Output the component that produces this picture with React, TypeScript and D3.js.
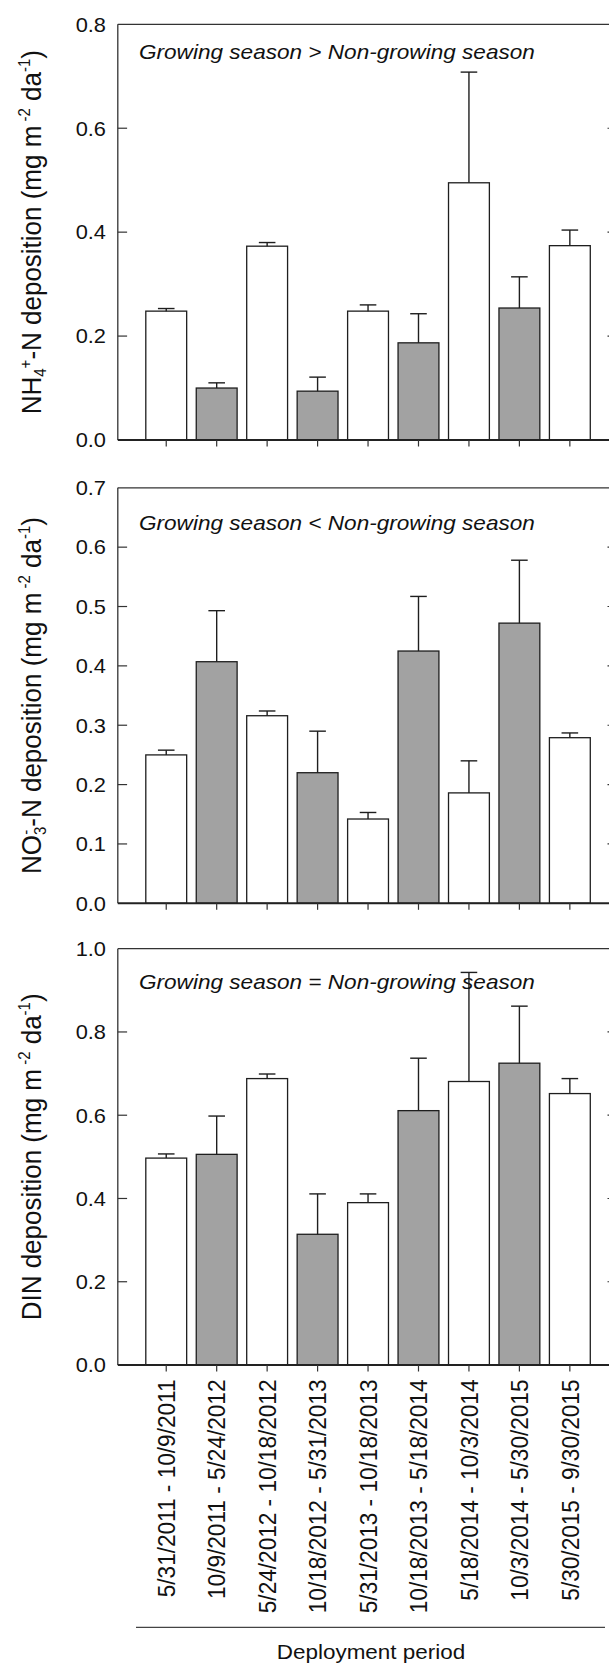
import React from "react";
import * as d3 from "d3";

const categories = [
  "5/31/2011 - 10/9/2011",
  "10/9/2011 - 5/24/2012",
  "5/24/2012 - 10/18/2012",
  "10/18/2012 - 5/31/2013",
  "5/31/2013 - 10/18/2013",
  "10/18/2013 - 5/18/2014",
  "5/18/2014 - 10/3/2014",
  "10/3/2014 - 5/30/2015",
  "5/30/2015 - 9/30/2015",
];
const growingSeason = [true, false, true, false, true, false, true, false, true];

const nh4 = [0.248, 0.100, 0.373, 0.094, 0.248, 0.187, 0.495, 0.254, 0.374];
const nh4Err = [0.005, 0.010, 0.007, 0.027, 0.012, 0.056, 0.213, 0.060, 0.030];
const no3 = [0.250, 0.407, 0.316, 0.220, 0.142, 0.425, 0.186, 0.472, 0.279];
const no3Err = [0.008, 0.086, 0.008, 0.070, 0.011, 0.092, 0.054, 0.106, 0.008];
const din = [0.497, 0.506, 0.688, 0.314, 0.390, 0.611, 0.681, 0.725, 0.652];
const dinErr = [0.010, 0.092, 0.011, 0.097, 0.021, 0.126, 0.262, 0.137, 0.036];

const nh4Ticks = [0, 0.2, 0.4, 0.6, 0.8];
const no3Ticks = [0, 0.1, 0.2, 0.3, 0.4, 0.5, 0.6, 0.7];
const dinTicks = [0, 0.2, 0.4, 0.6, 0.8, 1.0];

const notes = [
  "Growing season > Non-growing season",
  "Growing season < Non-growing season",
  "Growing season = Non-growing season",
];
const xTitle = "Deployment period";

const W = 609;
const H = 1669;
const FONT = "'Liberation Sans', Arial, Helvetica, sans-serif";
const SX = 1.08;
const GRAY = "#a2a2a2";
const INK = "#1e1e1e";

const x = d3.scaleLinear().domain([0.04, 10]).range([117.8, 620.3]);
const BAR_W = 0.81;
const LEFT = 117.8;

function Title({ kind, cy }) {
  const sub = 15;
  const common = { fontSize: 26 };
  let body;
  if (kind === "nh4") {
    body = (
      <>
        <tspan>NH</tspan>
        <tspan fontSize={sub} dy={5}>4</tspan>
        <tspan fontSize={sub} dy={-14}>+</tspan>
        <tspan dy={9}>-N deposition (mg m</tspan>
        <tspan fontSize={sub} dy={-10}> -2</tspan>
        <tspan dy={10}> da</tspan>
        <tspan fontSize={sub} dy={-10}>-1</tspan>
        <tspan dy={10}>)</tspan>
      </>
    );
  } else if (kind === "no3") {
    body = (
      <>
        <tspan>NO</tspan>
        <tspan fontSize={sub} dy={5}>3</tspan>
        <tspan fontSize={sub} dx={-8} dy={-14}>-</tspan>
        <tspan dy={9} dx={3}>-N deposition (mg m</tspan>
        <tspan fontSize={sub} dy={-10}> -2</tspan>
        <tspan dy={10}> da</tspan>
        <tspan fontSize={sub} dy={-10}>-1</tspan>
        <tspan dy={10}>)</tspan>
      </>
    );
  } else {
    body = (
      <>
        <tspan>DIN deposition (mg m</tspan>
        <tspan fontSize={sub} dy={-10}> -2</tspan>
        <tspan dy={10}> da</tspan>
        <tspan fontSize={sub} dy={-10}>-1</tspan>
        <tspan dy={10}>)</tspan>
      </>
    );
  }
  return (
    <text
      transform={`translate(41,${cy}) scale(${SX},1) rotate(-90)`}
      textAnchor="middle"
      fill="#111"
      {...common}
    >
      {body}
    </text>
  );
}

function Panel({ values, errors, ticks, top, bottom, note, noteY, kind, showLabels }) {
  const y = d3.scaleLinear().domain([0, ticks[ticks.length - 1]]).range([bottom, top]);
  const fmt = d3.format(".1f");
  return (
    <g>
      {/* bars */}
      {values.map((v, i) => {
        const c = i + 1;
        const x0 = x(c - BAR_W / 2);
        const x1 = x(c + BAR_W / 2);
        return (
          <rect
            key={"b" + i}
            x={x0}
            y={y(v)}
            width={x1 - x0}
            height={y(0) - y(v)}
            fill={growingSeason[i] ? "#ffffff" : GRAY}
            stroke={INK}
            strokeWidth={1.3}
          />
        );
      })}
      {/* error bars */}
      {values.map((v, i) => {
        const cx = x(i + 1);
        const yt = y(v + errors[i]);
        return (
          <g key={"e" + i} stroke={INK} strokeWidth={1.4}>
            <line x1={cx} x2={cx} y1={y(v)} y2={yt} />
            <line x1={cx - 8.3} x2={cx + 8.3} y1={yt} y2={yt} />
          </g>
        );
      })}
      {/* frame */}
      <line x1={LEFT} x2={LEFT} y1={top} y2={bottom} stroke="#333" strokeWidth={1.3} />
      <line x1={LEFT} x2={W + 10} y1={top} y2={top} stroke="#333" strokeWidth={1.3} />
      <line x1={LEFT} x2={W + 10} y1={bottom} y2={bottom} stroke="#222" strokeWidth={2} />
      {/* y ticks */}
      {ticks.map((t, i) => (
        <g key={"t" + i}>
          {i > 0 && i < ticks.length - 1 && (
            <>
              <line x1={LEFT} x2={LEFT + 9.3} y1={y(t)} y2={y(t)} stroke="#333" strokeWidth={1.2} />
              <line x1={607.5} x2={620} y1={y(t)} y2={y(t)} stroke="#333" strokeWidth={1.2} />
            </>
          )}
          <text
            transform={`translate(106,${y(t)}) scale(${SX},1)`}
            textAnchor="end"
            dy="0.36em"
            fontSize={20.2}
            fill="#111"
          >
            {fmt(t)}
          </text>
        </g>
      ))}
      {/* x ticks */}
      {categories.map((c, i) => (
        <line
          key={"x" + i}
          x1={x(i + 1)}
          x2={x(i + 1)}
          y1={bottom}
          y2={bottom + 6.5}
          stroke="#333"
          strokeWidth={1.2}
        />
      ))}
      {showLabels &&
        categories.map((c, i) => (
          <text
            key={"l" + i}
            transform={`translate(${x(i + 1)},${bottom + 14.5}) scale(${SX},1) rotate(-90)`}
            textAnchor="end"
            dy="0.36em"
            fontSize={22.6}
            fill="#111"
          >
            {c}
          </text>
        ))}
      <text
        transform={`translate(139,${noteY}) scale(${SX},1)`}
        fontSize={20.9}
        fontStyle="italic"
        fill="#111"
      >
        {note}
      </text>
      <Title kind={kind} cy={(top + bottom) / 2} />
    </g>
  );
}

export default function App() {
  return (
    <svg
      width={W}
      height={H}
      viewBox={`0 0 ${W} ${H}`}
      style={{ position: "absolute", left: 0, top: 0, display: "block", background: "#fff" }}
      fontFamily={FONT}
    >
      <rect x={0} y={0} width={W} height={H} fill="#fff" />
      <Panel
        values={nh4}
        errors={nh4Err}
        ticks={nh4Ticks}
        top={24.3}
        bottom={440}
        note={notes[0]}
        noteY={59}
        kind="nh4"
        showLabels={false}
      />
      <Panel
        values={no3}
        errors={no3Err}
        ticks={no3Ticks}
        top={487.8}
        bottom={903.3}
        note={notes[1]}
        noteY={529.5}
        kind="no3"
        showLabels={false}
      />
      <Panel
        values={din}
        errors={dinErr}
        ticks={dinTicks}
        top={948.7}
        bottom={1365}
        note={notes[2]}
        noteY={988.5}
        kind="din"
        showLabels={true}
      />
      <line x1={136} x2={605} y1={1627.3} y2={1627.3} stroke="#444" strokeWidth={1.3} />
      <text
        transform={`translate(371,1659) scale(${SX},1)`}
        textAnchor="middle"
        fontSize={20.8}
        fill="#111"
      >
        {xTitle}
      </text>
    </svg>
  );
}
